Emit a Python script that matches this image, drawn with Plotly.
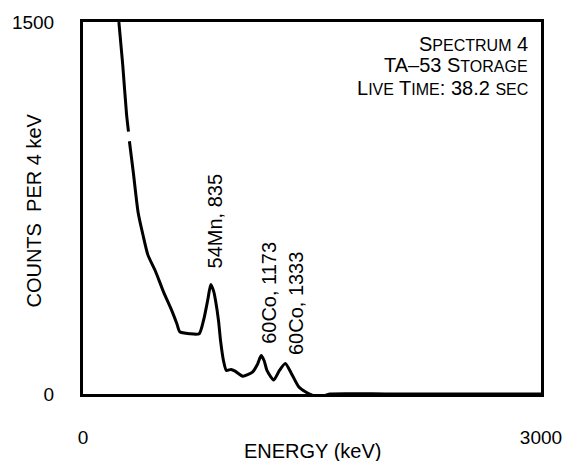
import plotly.graph_objects as go

# Gamma spectrum (energy in keV, counts per 4 keV)
energy = [235, 260, 285, 298, 301, 304, 330, 361, 393, 425, 476, 526, 583, 615, 634,
          698, 761, 793, 818, 837, 856, 869, 888, 901, 920, 939, 970, 996, 1046,
          1110, 1142, 1167, 1186, 1205, 1249, 1287, 1325, 1364, 1414, 1459, 1497,
          1535, 1573, 1617, 2000, 2500, 3000]
counts = [1500, 1329, 1130, 1058, None, 1019, 891, 732, 641, 561, 493, 414, 334, 283, 251,
          243, 243, 306, 382, 442, 414, 374, 294, 215, 135, 95, 99, 92, 72,
          88, 119, 155, 135, 95, 56, 95, 123, 84, 28, 8, -4,
          -12, -8, 0, 0, 0, 0]

x_ticks = [0, 3000]
x_ticktext = ["0", "3000"]
y_ticks = [0, 1500]
y_ticktext = ["0", "1500"]

peak_labels = ["54Mn, 835", "60Co, 1173", "60Co, 1333"]
peak_label_x = [865, 1222, 1394]
peak_label_y = [696, 406, 366]

FONT = "Liberation Sans, Arial, Helvetica, sans-serif"
B, S = 20, 16

def big(t):
    return f'<span style="font-size:{B}px">{t}</span>'

def small(t):
    return f'<span style="font-size:{S}px">{t}</span>'

info_lines = [
    big("S") + small("PECTRUM") + big(" 4"),
    big("TA–53 S") + small("TORAGE"),
    big("L") + small("IVE") + big(" T") + small("IME") + big(": 38.2 ") + small("SEC"),
]
info_y = [1413, 1325, 1233]

fig = go.Figure()
fig.add_trace(go.Scatter(x=energy, y=counts, mode="lines",
                         line=dict(color="black", width=3, shape="spline", smoothing=0.6),
                         connectgaps=False, showlegend=False, hoverinfo="skip"))

annotations = []
for t, xx, yy in zip(peak_labels, peak_label_x, peak_label_y):
    annotations.append(dict(x=xx, y=yy, xref="x", yref="y", text=t, showarrow=False,
                            textangle=-90, xanchor="center", yanchor="middle",
                            font=dict(size=20, color="black", family=FONT)))
for t, yy in zip(info_lines, info_y):
    annotations.append(dict(x=2925, y=yy, xref="x", yref="y", text=t, showarrow=False,
                            xanchor="right", yanchor="middle",
                            font=dict(size=B, color="black", family=FONT)))
annotations.append(dict(x=0.5, y=-0.152, xref="paper", yref="paper", text="ENERGY (keV)",
                        showarrow=False, xanchor="center", yanchor="middle",
                        font=dict(size=20, color="black", family=FONT)))
annotations.append(dict(x=-0.108, y=0.492, xref="paper", yref="paper", text="COUNTS  PER 4 keV",
                        showarrow=False, textangle=-90, xanchor="center", yanchor="middle",
                        font=dict(size=20, color="black", family=FONT)))

fig.update_layout(
    width=574, height=461,
    margin=dict(l=75, r=26, t=17, b=67),
    paper_bgcolor="white", plot_bgcolor="white",
    font=dict(family=FONT, color="black"),
    annotations=annotations,
    xaxis=dict(range=[0, 3000], tickvals=x_ticks, ticktext=x_ticktext, showgrid=False,
               zeroline=False, showline=True, linecolor="black", linewidth=3, mirror=True,
               ticks="", ticklabelstandoff=24, tickfont=dict(size=19, color="black", family=FONT)),
    yaxis=dict(range=[0, 1500], tickvals=y_ticks, ticktext=y_ticktext, showgrid=False,
               zeroline=False, showline=True, linecolor="black", linewidth=3, mirror=True,
               ticks="", ticklabelstandoff=22, tickfont=dict(size=19, color="black", family=FONT)),
)

fig.write_html("out.html")
